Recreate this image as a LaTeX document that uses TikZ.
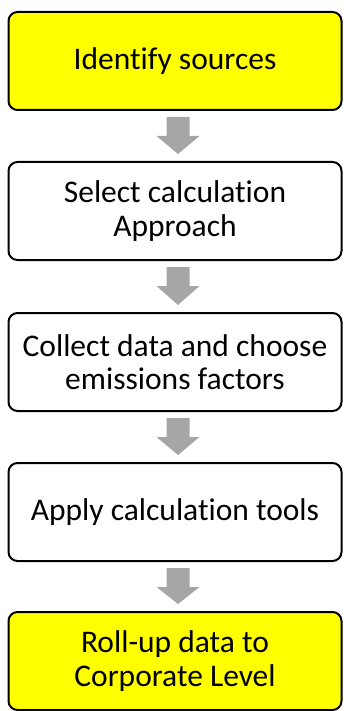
\documentclass[tikz,border=0pt]{standalone}
\usepackage{fontspec}
\setmainfont[Ligatures=NoCommon]{Carlito}
\usetikzlibrary{calc}
\begin{document}
\begin{tikzpicture}[x=1pt,y=-1pt,
  stepbox/.style={draw=black, line width=2pt, rounded corners=9pt, minimum width=333pt, minimum height=98pt, align=center, font=\fontsize{31.5}{33.5}\selectfont, inner sep=0pt},
  hl/.style={fill={rgb,255:red,255;green,255;blue,0}},
  plain/.style={fill=white},
  flowarrow/.style={fill={rgb,255:red,166;green,166;blue,166}, draw=none}]
\useasboundingbox (0,0) rectangle (343,711);
\node[stepbox,hl]    (s1) at (175,61)  {Identify sources};
\node[stepbox,plain] (s2) at (175,211) {Select calculation\\Approach};
\node[stepbox,plain] (s3) at (175,362) {Collect data and choose\\emissions factors};
\node[stepbox,plain] (s4) at (175,512) {Apply calculation tools};
\node[stepbox,hl]    (s5) at (175,661) {Roll-up data to\\Corporate Level};
\foreach \a/\b in {s1/s2,s2/s3,s3/s4,s4/s5}{
  \path (\a.south) ++(3,0) coordinate (top) (\b.north) ++(3,0) coordinate (bot);
  \fill[flowarrow] ($(top)+(-11.5,6)$) -- ($(top)+(11.5,6)$) -- ($(top)+(11.5,25)$) -- ($(top)+(21.5,25)$) -- ($(bot)+(0,-7)$) -- ($(top)+(-21.5,25)$) -- ($(top)+(-11.5,25)$) -- cycle;
}
\end{tikzpicture}
\end{document}
